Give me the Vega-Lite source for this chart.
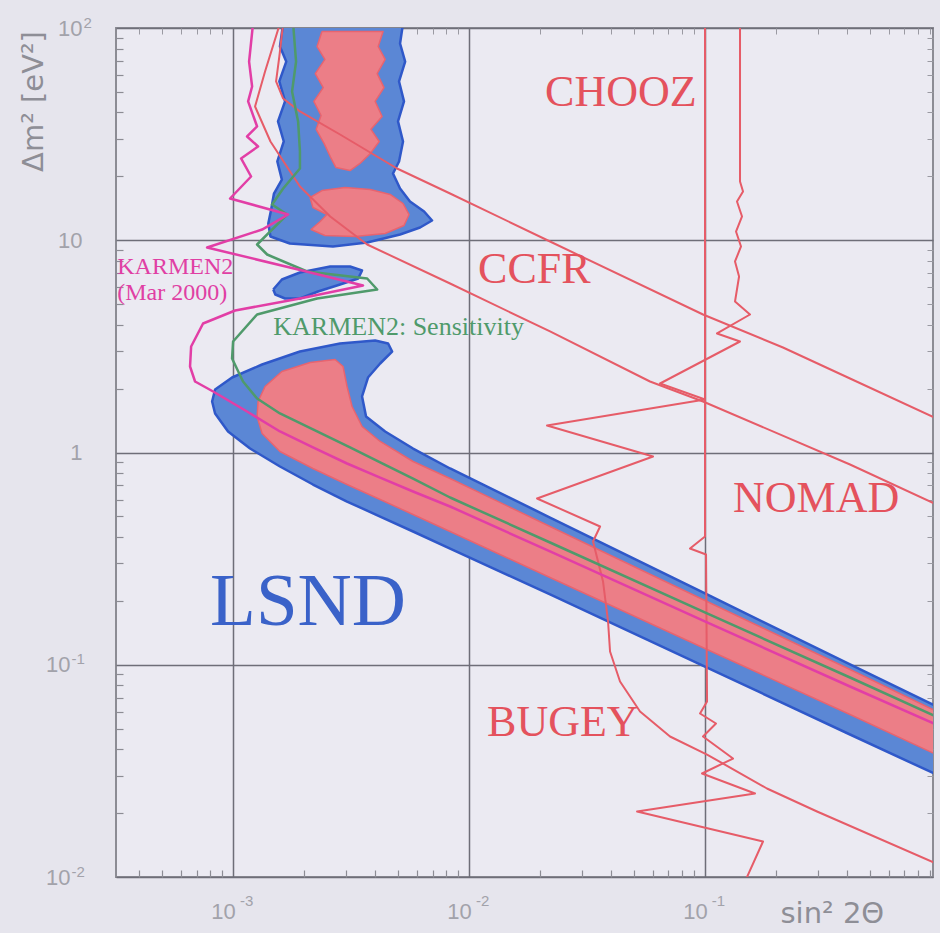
{
  "$schema": "https://vega.github.io/schema/vega-lite/v6.json",
  "width": 817,
  "height": 849,
  "autosize": {"type": "none"},
  "padding": {"left": 116, "top": 28, "right": 7, "bottom": 56},
  "background": "#e6e5ed",
  "config": {
    "view": {"fill": "#ebeaf2", "stroke": "#8c8c94", "strokeWidth": 2},
    "axis": {"labelFont": "Liberation Sans", "labelColor": "#a2a2aa", "domain": false, "ticks": false, "grid": false, "labelFlush": false, "labelOverlap": false}
  },
  "resolve": {"axis": {"x": "independent", "y": "independent"}},
  "datasets": {
    "pts": [
      {"s":"BU","o":1,"x":0.00163,"y":105},{"s":"BU","o":2,"x":0.00158,"y":81.8},{"s":"BU","o":3,"x":0.00168,"y":69.5},{"s":"BU","o":4,"x":0.00157,"y":56.0},{"s":"BU","o":5,"x":0.00166,"y":45.1},{"s":"BU","o":6,"x":0.00155,"y":36.3},{"s":"BU","o":7,"x":0.00164,"y":29.2},{"s":"BU","o":8,"x":0.00154,"y":23.5},{"s":"BU","o":9,"x":0.00161,"y":19.3},{"s":"BU","o":10,"x":0.00149,"y":16.6},{"s":"BU","o":11,"x":0.00145,"y":13.96},{"s":"BU","o":12,"x":0.00141,"y":12.0},{"s":"BU","o":13,"x":0.00144,"y":10.41},{"s":"BU","o":14,"x":0.00174,"y":9.65},{"s":"BU","o":15,"x":0.00265,"y":9.35},{"s":"BU","o":16,"x":0.0037,"y":9.76},{"s":"BU","o":17,"x":0.0051,"y":10.64},{"s":"BU","o":18,"x":0.0062,"y":11.48},{"s":"BU","o":19,"x":0.00697,"y":12.39},{"s":"BU","o":20,"x":0.00645,"y":13.66},{"s":"BU","o":21,"x":0.00562,"y":15.22},{"s":"BU","o":22,"x":0.0051,"y":17.53},{"s":"BU","o":23,"x":0.00476,"y":20.63},{"s":"BU","o":24,"x":0.00505,"y":23.5},{"s":"BU","o":25,"x":0.00525,"y":29.2},{"s":"BU","o":26,"x":0.005,"y":36.3},{"s":"BU","o":27,"x":0.0053,"y":45.1},{"s":"BU","o":28,"x":0.00505,"y":56.0},{"s":"BU","o":29,"x":0.00536,"y":69.5},{"s":"BU","o":30,"x":0.0051,"y":84.5},{"s":"BU","o":31,"x":0.00525,"y":105},{"s":"BU","o":32,"x":0.00163,"y":105},
      {"s":"BI","o":1,"x":0.00148,"y":5.861},{"s":"BI","o":2,"x":0.00161,"y":6.534},{"s":"BI","o":3,"x":0.00192,"y":7.05},{"s":"BI","o":4,"x":0.00258,"y":7.521},{"s":"BI","o":5,"x":0.00313,"y":7.521},{"s":"BI","o":6,"x":0.00352,"y":7.202},{"s":"BI","o":7,"x":0.00339,"y":6.605},{"s":"BI","o":8,"x":0.00284,"y":6.187},{"s":"BI","o":9,"x":0.00229,"y":5.734},{"s":"BI","o":10,"x":0.00192,"y":5.316},{"s":"BI","o":11,"x":0.00166,"y":5.316},{"s":"BI","o":12,"x":0.00151,"y":5.551},{"s":"BI","o":13,"x":0.00148,"y":5.861},
      {"s":"BL","o":1,"x":1.04,"y":0.0291},{"s":"BL","o":2,"x":0.4116,"y":0.04692},{"s":"BL","o":3,"x":0.102,"y":0.09705},{"s":"BL","o":4,"x":0.02204,"y":0.2143},{"s":"BL","o":5,"x":0.00831,"y":0.3529},{"s":"BL","o":6,"x":0.00579,"y":0.4244},{"s":"BL","o":7,"x":0.0042,"y":0.4993},{"s":"BL","o":8,"x":0.00304,"y":0.5875},{"s":"BL","o":9,"x":0.00218,"y":0.7066},{"s":"BL","o":10,"x":0.00158,"y":0.8592},{"s":"BL","o":11,"x":0.00118,"y":1.044},{"s":"BL","o":12,"x":0.000952,"y":1.256},{"s":"BL","o":13,"x":0.000839,"y":1.527},{"s":"BL","o":14,"x":0.000815,"y":1.739},{"s":"BL","o":15,"x":0.000839,"y":1.981},{"s":"BL","o":16,"x":0.00099,"y":2.256},{"s":"BL","o":17,"x":0.001327,"y":2.598},{"s":"BL","o":18,"x":0.00192,"y":2.991},{"s":"BL","o":19,"x":0.00284,"y":3.263},{"s":"BL","o":20,"x":0.004,"y":3.371},{"s":"BL","o":21,"x":0.00454,"y":3.263},{"s":"BL","o":22,"x":0.00472,"y":2.991},{"s":"BL","o":23,"x":0.0042,"y":2.626},{"s":"BL","o":24,"x":0.00373,"y":2.256},{"s":"BL","o":25,"x":0.00352,"y":1.836},{"s":"BL","o":26,"x":0.00366,"y":1.478},{"s":"BL","o":27,"x":0.00441,"y":1.256},{"s":"BL","o":28,"x":0.00579,"y":1.044},{"s":"BL","o":29,"x":0.00831,"y":0.8407},{"s":"BL","o":30,"x":0.02204,"y":0.494},{"s":"BL","o":31,"x":0.102,"y":0.2143},{"s":"BL","o":32,"x":0.4116,"y":0.1003},{"s":"BL","o":33,"x":1.04,"y":0.06087},{"s":"BL","o":34,"x":1.04,"y":0.0291},
      {"s":"RU","o":1,"x":0.00238,"y":96.3},{"s":"RU","o":2,"x":0.00227,"y":81.8},{"s":"RU","o":3,"x":0.00245,"y":71.1},{"s":"RU","o":4,"x":0.00223,"y":61.0},{"s":"RU","o":5,"x":0.00241,"y":52.4},{"s":"RU","o":6,"x":0.0022,"y":45.1},{"s":"RU","o":7,"x":0.00236,"y":38.7},{"s":"RU","o":8,"x":0.00225,"y":33.3},{"s":"RU","o":9,"x":0.00243,"y":28.6},{"s":"RU","o":10,"x":0.00258,"y":24.8},{"s":"RU","o":11,"x":0.00273,"y":22.0},{"s":"RU","o":12,"x":0.00313,"y":21.3},{"s":"RU","o":13,"x":0.00345,"y":23.0},{"s":"RU","o":14,"x":0.00381,"y":25.6},{"s":"RU","o":15,"x":0.00416,"y":29.2},{"s":"RU","o":16,"x":0.00384,"y":33.3},{"s":"RU","o":17,"x":0.00428,"y":38.3},{"s":"RU","o":18,"x":0.004,"y":45.1},{"s":"RU","o":19,"x":0.00436,"y":52.4},{"s":"RU","o":20,"x":0.00408,"y":61.0},{"s":"RU","o":21,"x":0.00441,"y":71.1},{"s":"RU","o":22,"x":0.00412,"y":81.8},{"s":"RU","o":23,"x":0.00432,"y":96.3},{"s":"RU","o":24,"x":0.00238,"y":96.3},
      {"s":"RL","o":1,"x":0.00212,"y":15.9},{"s":"RL","o":2,"x":0.00238,"y":17.15},{"s":"RL","o":3,"x":0.00298,"y":17.72},{"s":"RL","o":4,"x":0.00381,"y":17.34},{"s":"RL","o":5,"x":0.00463,"y":16.43},{"s":"RL","o":6,"x":0.00525,"y":14.9},{"s":"RL","o":7,"x":0.00557,"y":13.22},{"s":"RL","o":8,"x":0.0053,"y":11.73},{"s":"RL","o":9,"x":0.00441,"y":10.76},{"s":"RL","o":10,"x":0.00329,"y":10.41},{"s":"RL","o":11,"x":0.00245,"y":10.53},{"s":"RL","o":12,"x":0.00214,"y":11.23},{"s":"RL","o":13,"x":0.00234,"y":12.26},{"s":"RL","o":14,"x":0.0025,"y":13.22},{"s":"RL","o":15,"x":0.00218,"y":14.27},{"s":"RL","o":16,"x":0.00212,"y":15.9},
      {"s":"RB","o":1,"x":1.04,"y":0.03615},{"s":"RB","o":2,"x":0.4116,"y":0.05829},{"s":"RB","o":3,"x":0.102,"y":0.118},{"s":"RB","o":4,"x":0.02204,"y":0.2577},{"s":"RB","o":5,"x":0.00831,"y":0.4244},{"s":"RB","o":6,"x":0.00579,"y":0.5105},{"s":"RB","o":7,"x":0.0042,"y":0.6006},{"s":"RB","o":8,"x":0.00304,"y":0.7066},{"s":"RB","o":9,"x":0.00218,"y":0.8407},{"s":"RB","o":10,"x":0.00158,"y":1.011},{"s":"RB","o":11,"x":0.001327,"y":1.229},{"s":"RB","o":12,"x":0.001264,"y":1.478},{"s":"RB","o":13,"x":0.001276,"y":1.739},{"s":"RB","o":14,"x":0.001366,"y":2.046},{"s":"RB","o":15,"x":0.00161,"y":2.407},{"s":"RB","o":16,"x":0.00212,"y":2.655},{"s":"RB","o":17,"x":0.002705,"y":2.743},{"s":"RB","o":18,"x":0.002925,"y":2.542},{"s":"RB","o":19,"x":0.00304,"y":2.046},{"s":"RB","o":20,"x":0.003193,"y":1.647},{"s":"RB","o":21,"x":0.00352,"y":1.326},{"s":"RB","o":22,"x":0.0042,"y":1.127},{"s":"RB","o":23,"x":0.00579,"y":0.907},{"s":"RB","o":24,"x":0.00831,"y":0.7542},{"s":"RB","o":25,"x":0.02204,"y":0.4481},{"s":"RB","o":26,"x":0.102,"y":0.1986},{"s":"RB","o":27,"x":0.4116,"y":0.09497},{"s":"RB","o":28,"x":1.04,"y":0.05766},{"s":"RB","o":29,"x":1.04,"y":0.03615},
      {"s":"C1","o":1,"x":1.04,"y":1.384},{"s":"C1","o":2,"x":0.4116,"y":2.232},{"s":"C1","o":3,"x":0.214,"y":3.124},{"s":"C1","o":4,"x":0.09806,"y":4.469},{"s":"C1","o":5,"x":0.02204,"y":9.865},{"s":"C1","o":6,"x":0.00831,"y":16.61},{"s":"C1","o":7,"x":0.004953,"y":21.78},{"s":"C1","o":8,"x":0.00284,"y":31.5},{"s":"C1","o":9,"x":0.00192,"y":40.43},{"s":"C1","o":10,"x":0.00163,"y":46.53},{"s":"C1","o":11,"x":0.001521,"y":56.0},{"s":"C1","o":12,"x":0.00157,"y":73.4},{"s":"C1","o":13,"x":0.00163,"y":105},
      {"s":"C2","o":1,"x":1.04,"y":0.5446},{"s":"C2","o":2,"x":0.4116,"y":0.8779},{"s":"C2","o":3,"x":0.09806,"y":1.739},{"s":"C2","o":4,"x":0.05846,"y":2.16},{"s":"C2","o":5,"x":0.02204,"y":3.717},{"s":"C2","o":6,"x":0.00831,"y":6.254},{"s":"C2","o":7,"x":0.0037,"y":9.55},{"s":"C2","o":8,"x":0.00258,"y":12.94},{"s":"C2","o":9,"x":0.00192,"y":17.92},{"s":"C2","o":10,"x":0.00144,"y":29.2},{"s":"C2","o":11,"x":0.001239,"y":42.67},{"s":"C2","o":12,"x":0.001366,"y":62.37},{"s":"C2","o":13,"x":0.00158,"y":105},
      {"s":"CH","o":1,"x":0.1,"y":105},{"s":"CH","o":2,"x":0.1,"y":0.402},{"s":"CH","o":3,"x":0.08638,"y":0.3529},{"s":"CH","o":4,"x":0.101,"y":0.3307},{"s":"CH","o":5,"x":0.102,"y":0.06713},{"s":"CH","o":6,"x":0.09524,"y":0.05892},{"s":"CH","o":7,"x":0.1113,"y":0.05287},{"s":"CH","o":8,"x":0.09806,"y":0.04591},{"s":"CH","o":9,"x":0.1314,"y":0.03615},{"s":"CH","o":10,"x":0.09712,"y":0.03073},{"s":"CH","o":11,"x":0.1629,"y":0.02474},{"s":"CH","o":12,"x":0.05152,"y":0.02035},{"s":"CH","o":13,"x":0.1761,"y":0.0147},{"s":"CH","o":14,"x":0.1477,"y":0.00952},
      {"s":"BG","o":1,"x":0.1407,"y":105},{"s":"BG","o":2,"x":0.1407,"y":18.91},{"s":"BG","o":3,"x":0.1449,"y":16.97},{"s":"BG","o":4,"x":0.1366,"y":15.22},{"s":"BG","o":5,"x":0.1435,"y":12.94},{"s":"BG","o":6,"x":0.1353,"y":10.99},{"s":"BG","o":7,"x":0.1421,"y":9.35},{"s":"BG","o":8,"x":0.134,"y":7.943},{"s":"BG","o":9,"x":0.1394,"y":6.749},{"s":"BG","o":10,"x":0.134,"y":5.145},{"s":"BG","o":11,"x":0.1551,"y":4.469},{"s":"BG","o":12,"x":0.1124,"y":3.637},{"s":"BG","o":13,"x":0.1407,"y":3.334},{"s":"BG","o":14,"x":0.06447,"y":2.114},{"s":"BG","o":15,"x":0.1,"y":1.777},{"s":"BG","o":16,"x":0.0214,"y":1.34},{"s":"BG","o":17,"x":0.06022,"y":0.9576},{"s":"BG","o":18,"x":0.01941,"y":0.6071},{"s":"BG","o":19,"x":0.03591,"y":0.4481},{"s":"BG","o":20,"x":0.03353,"y":0.3808},{"s":"BG","o":21,"x":0.03697,"y":0.2467},{"s":"BG","o":22,"x":0.03882,"y":0.1599},{"s":"BG","o":23,"x":0.03958,"y":0.1154},{"s":"BG","o":24,"x":0.04363,"y":0.08341},{"s":"BG","o":25,"x":0.05304,"y":0.06022},{"s":"BG","o":26,"x":0.07107,"y":0.04591},{"s":"BG","o":27,"x":0.102,"y":0.03776},{"s":"BG","o":28,"x":0.183,"y":0.02612},{"s":"BG","o":29,"x":0.2983,"y":0.02035},{"s":"BG","o":30,"x":1.04,"y":0.01109},
      {"s":"G","o":1,"x":0.001796,"y":105},{"s":"G","o":2,"x":0.001849,"y":69.5},{"s":"G","o":3,"x":0.001778,"y":50.2},{"s":"G","o":4,"x":0.001886,"y":36.3},{"s":"G","o":5,"x":0.00192,"y":26.19},{"s":"G","o":6,"x":0.00192,"y":21.78},{"s":"G","o":7,"x":0.00163,"y":17.53},{"s":"G","o":8,"x":0.001463,"y":14.74},{"s":"G","o":9,"x":0.001694,"y":13.22},{"s":"G","o":10,"x":0.001264,"y":9.55},{"s":"G","o":11,"x":0.001394,"y":8.567},{"s":"G","o":12,"x":0.002059,"y":7.124},{"s":"G","o":13,"x":0.0037,"y":6.605},{"s":"G","o":14,"x":0.00408,"y":5.861},{"s":"G","o":15,"x":0.00227,"y":5.316},{"s":"G","o":16,"x":0.001264,"y":4.469},{"s":"G","o":17,"x":0.001,"y":3.334},{"s":"G","o":18,"x":0.00099,"y":2.773},{"s":"G","o":19,"x":0.001102,"y":2.16},{"s":"G","o":20,"x":0.001264,"y":1.796},{"s":"G","o":21,"x":0.00158,"y":1.527},{"s":"G","o":22,"x":0.00218,"y":1.284},{"s":"G","o":23,"x":0.00313,"y":1.056},{"s":"G","o":24,"x":0.0042,"y":0.8973},{"s":"G","o":25,"x":0.00579,"y":0.7542},{"s":"G","o":26,"x":0.00831,"y":0.6137},{"s":"G","o":27,"x":0.02204,"y":0.3767},{"s":"G","o":28,"x":0.102,"y":0.1744},{"s":"G","o":29,"x":0.4116,"y":0.08709},{"s":"G","o":30,"x":1.04,"y":0.05461},
      {"s":"M","o":1,"x":0.001215,"y":105},{"s":"M","o":2,"x":0.001169,"y":69.5},{"s":"M","o":3,"x":0.001204,"y":53.0},{"s":"M","o":4,"x":0.001158,"y":45.1},{"s":"M","o":5,"x":0.001264,"y":34.36},{"s":"M","o":6,"x":0.001146,"y":30.83},{"s":"M","o":7,"x":0.001276,"y":27.66},{"s":"M","o":8,"x":0.001081,"y":24.28},{"s":"M","o":9,"x":0.001192,"y":19.97},{"s":"M","o":10,"x":0.000971,"y":15.73},{"s":"M","o":11,"x":0.001711,"y":13.22},{"s":"M","o":12,"x":0.001327,"y":11.23},{"s":"M","o":13,"x":0.000776,"y":9.244},{"s":"M","o":14,"x":0.001886,"y":7.28},{"s":"M","o":15,"x":0.003554,"y":6.122},{"s":"M","o":16,"x":0.00192,"y":5.316},{"s":"M","o":17,"x":0.00102,"y":4.667},{"s":"M","o":18,"x":0.000746,"y":4.053},{"s":"M","o":19,"x":0.000664,"y":3.158},{"s":"M","o":20,"x":0.000657,"y":2.542},{"s":"M","o":21,"x":0.00069,"y":2.16},{"s":"M","o":22,"x":0.000823,"y":1.938},{"s":"M","o":23,"x":0.001146,"y":1.56},{"s":"M","o":24,"x":0.00158,"y":1.256},{"s":"M","o":25,"x":0.00218,"y":1.056},{"s":"M","o":26,"x":0.00304,"y":0.8875},{"s":"M","o":27,"x":0.0042,"y":0.7622},{"s":"M","o":28,"x":0.00579,"y":0.6551},{"s":"M","o":29,"x":0.00831,"y":0.5567},{"s":"M","o":30,"x":0.02204,"y":0.3417},{"s":"M","o":31,"x":0.102,"y":0.1582},{"s":"M","o":32,"x":0.4116,"y":0.07898},{"s":"M","o":33,"x":1.04,"y":0.05008}
    ]
  },
  "layer": [
    {
      "data": {"name": "pts"},
      "transform": [{"filter": "datum.s == 'BU' || datum.s == 'BI' || datum.s == 'BL'"}],
      "mark": {"type": "line", "fill": "#5b87d5", "stroke": "#2f58c9", "strokeWidth": 2.5, "strokeJoin": "round", "clip": true},
      "encoding": {
        "x": {"field": "x", "type": "quantitative", "scale": {"type": "log", "domain": [0.000319, 0.925]},
          "axis": {"orient": "bottom", "values": [0.001, 0.01, 0.1],
            "labelExpr": "'10'",
            "grid": true, "gridColor": "#6e6e78", "gridWidth": 1.5, "gridOpacity": 1,
            "labelPadding": 24, "labelOffset": -10, "labelAlign": "center", "labelFontSize": 22,
            "title": "sin² 2Θ", "titleX": 664, "titleY": 45, "titleAlign": "left", "titleBaseline": "alphabetic", "titleAnchor": null,
            "titleFont": "DejaVu Sans", "titleFontSize": 29, "titleFontWeight": "normal", "titleColor": "#8e8e96"}},
        "y": {"field": "y", "type": "quantitative", "scale": {"type": "log", "domain": [0.01, 100]},
          "axis": {"orient": "left", "values": [0.01, 0.1, 1, 10, 100],
            "labelExpr": "datum.value < 0.5 ? '' : datum.value < 5 ? '1' : '10'",
            "grid": true, "gridColor": "#6e6e78", "gridWidth": 1.5, "gridOpacity": 1,
            "labelPadding": 34, "labelAlign": "right", "labelFontSize": 22,
            "title": "Δm² [eV²]", "titleAngle": -90, "titleX": -74, "titleY": 73, "titleAlign": "center", "titleBaseline": "alphabetic", "titleAnchor": null,
            "titleFont": "DejaVu Sans", "titleFontSize": 29, "titleFontWeight": "normal", "titleColor": "#8e8e96"}},
        "order": {"field": "o", "type": "quantitative"},
        "detail": {"field": "s", "type": "nominal"}
      }
    },
    {
      "data": {"name": "pts"},
      "transform": [{"filter": "datum.s == 'BU'"}],
      "mark": {"type": "line", "stroke": "#8c8c94", "strokeWidth": 0, "clip": true},
      "encoding": {
        "x": {"field": "x", "type": "quantitative", "scale": {"type": "log", "domain": [0.000319, 0.925]},
          "axis": {"orient": "top", "offset": -849, "values": [0.0004,0.0005,0.0006,0.0007,0.0008,0.0009,0.002,0.003,0.004,0.005,0.006,0.007,0.008,0.009,0.02,0.03,0.04,0.05,0.06,0.07,0.08,0.09,0.2,0.3,0.4,0.5,0.6,0.7,0.8,0.9],
            "labels": false, "ticks": true, "tickSize": 7, "tickColor": "#8c8c94", "tickWidth": 1.2, "title": null}},
        "y": {"field": "y", "type": "quantitative", "scale": {"type": "log", "domain": [0.01, 100]},
          "axis": {"orient": "right", "offset": -817, "values": [0.02,0.03,0.04,0.05,0.06,0.07,0.08,0.09,0.2,0.3,0.4,0.5,0.6,0.7,0.8,0.9,2,3,4,5,6,7,8,9,20,30,40,50,60,70,80,90],
            "labels": false, "ticks": true, "tickSize": 7, "tickColor": "#8c8c94", "tickWidth": 1.2, "title": null}},
        "order": {"field": "o", "type": "quantitative"}
      }
    },
    {
      "data": {"name": "pts"},
      "transform": [{"filter": "datum.s == 'RU' || datum.s == 'RL' || datum.s == 'RB'"}],
      "mark": {"type": "line", "fill": "#ec7e87", "stroke": "#e8646f", "strokeWidth": 1.5, "strokeJoin": "round", "clip": true},
      "encoding": {
        "x": {"field": "x", "type": "quantitative", "scale": {"type": "log", "domain": [0.000319, 0.925]},
          "axis": {"orient": "bottom", "values": [0.001, 0.01, 0.1],
            "labelExpr": "datum.value < 0.005 ? '-3' : datum.value < 0.05 ? '-2' : '-1'",
            "labelPadding": 16, "labelOffset": 13, "labelAlign": "center", "labelFontSize": 15, "title": null}},
        "y": {"field": "y", "type": "quantitative", "scale": {"type": "log", "domain": [0.01, 100]}, "axis": null},
        "order": {"field": "o", "type": "quantitative"},
        "detail": {"field": "s", "type": "nominal"}
      }
    },
    {
      "data": {"name": "pts"},
      "transform": [{"filter": "datum.s == 'C1' || datum.s == 'C2' || datum.s == 'CH' || datum.s == 'BG'"}],
      "mark": {"type": "line", "stroke": "#e65c68", "strokeWidth": 2, "strokeJoin": "round", "clip": true},
      "encoding": {
        "x": {"field": "x", "type": "quantitative", "scale": {"type": "log", "domain": [0.000319, 0.925]}, "axis": null},
        "y": {"field": "y", "type": "quantitative", "scale": {"type": "log", "domain": [0.01, 100]},
          "axis": {"orient": "left", "values": [100], "labelExpr": "'2'",
            "labelPadding": 33, "labelAlign": "left", "labelOffset": -6, "labelFontSize": 15, "title": null}},
        "order": {"field": "o", "type": "quantitative"},
        "detail": {"field": "s", "type": "nominal"}
      }
    },
    {
      "data": {"name": "pts"},
      "transform": [{"filter": "datum.s == 'G'"}],
      "mark": {"type": "line", "stroke": "#4f9a6b", "strokeWidth": 2.5, "strokeJoin": "round", "clip": true},
      "encoding": {
        "x": {"field": "x", "type": "quantitative", "scale": {"type": "log", "domain": [0.000319, 0.925]}, "axis": null},
        "y": {"field": "y", "type": "quantitative", "scale": {"type": "log", "domain": [0.01, 100]},
          "axis": {"orient": "left", "values": [0.01, 0.1], "labelExpr": "datum.value < 0.05 ? '-2' : '-1'",
            "labelPadding": 45, "labelAlign": "left", "labelOffset": -6, "labelFontSize": 15, "title": null}},
        "order": {"field": "o", "type": "quantitative"}
      }
    },
    {
      "data": {"name": "pts"},
      "transform": [{"filter": "datum.s == 'M'"}],
      "mark": {"type": "line", "stroke": "#e23ea6", "strokeWidth": 2.5, "strokeJoin": "round", "clip": true},
      "encoding": {
        "x": {"field": "x", "type": "quantitative", "scale": {"type": "log", "domain": [0.000319, 0.925]}, "axis": null},
        "y": {"field": "y", "type": "quantitative", "scale": {"type": "log", "domain": [0.01, 100]},
          "axis": {"orient": "left", "values": [0.01, 0.1], "labelExpr": "'10'",
            "labelPadding": 46, "labelAlign": "right", "labelFontSize": 22, "title": null}},
        "order": {"field": "o", "type": "quantitative"}
      }
    },
    {
      "data": {"values": [
        {"t": "CHOOZ", "x": 0.02099, "y": 49.14},
        {"t": "CCFR", "x": 0.01092, "y": 7.28},
        {"t": "NOMAD", "x": 0.1314, "y": 0.6071},
        {"t": "BUGEY", "x": 0.01192, "y": 0.05287}
      ]},
      "mark": {"type": "text", "font": "Liberation Serif", "fontSize": 44, "color": "#e4525d", "align": "left", "baseline": "middle"},
      "encoding": {
        "x": {"field": "x", "type": "quantitative", "scale": {"type": "log", "domain": [0.000319, 0.925]}, "axis": null},
        "y": {"field": "y", "type": "quantitative", "scale": {"type": "log", "domain": [0.01, 100]}, "axis": null},
        "text": {"field": "t"}
      }
    },
    {
      "data": {"values": [{"t": "LSND", "x": 0.000799, "y": 0.1965}]},
      "mark": {"type": "text", "font": "Liberation Serif", "fontSize": 75, "color": "#3a62c9", "align": "left", "baseline": "middle"},
      "encoding": {
        "x": {"field": "x", "type": "quantitative", "scale": {"type": "log", "domain": [0.000319, 0.925]},
          "axis": {"orient": "bottom", "offset": -849, "values": [0.0004,0.0005,0.0006,0.0007,0.0008,0.0009,0.002,0.003,0.004,0.005,0.006,0.007,0.008,0.009,0.02,0.03,0.04,0.05,0.06,0.07,0.08,0.09,0.2,0.3,0.4,0.5,0.6,0.7,0.8,0.9],
            "labels": false, "ticks": true, "tickSize": 6, "tickColor": "#9a9aa2", "tickWidth": 1, "title": null}},
        "y": {"field": "y", "type": "quantitative", "scale": {"type": "log", "domain": [0.01, 100]},
          "axis": {"orient": "left", "offset": -817, "values": [0.02,0.03,0.04,0.05,0.06,0.07,0.08,0.09,0.2,0.3,0.4,0.5,0.6,0.7,0.8,0.9,2,3,4,5,6,7,8,9,20,30,40,50,60,70,80,90],
            "labels": false, "ticks": true, "tickSize": 6, "tickColor": "#9a9aa2", "tickWidth": 1, "title": null}},
        "text": {"field": "t"}
      }
    },
    {
      "data": {"values": [
        {"t": "KARMEN2", "x": 0.000323, "y": 7.521},
        {"t": "(Mar 2000)", "x": 0.000323, "y": 5.612}
      ]},
      "mark": {"type": "text", "font": "Liberation Serif", "fontSize": 24, "color": "#e03fa4", "align": "left", "baseline": "middle"},
      "encoding": {
        "x": {"field": "x", "type": "quantitative", "scale": {"type": "log", "domain": [0.000319, 0.925]}, "axis": null},
        "y": {"field": "y", "type": "quantitative", "scale": {"type": "log", "domain": [0.01, 100]}, "axis": null},
        "text": {"field": "t"}
      }
    },
    {
      "data": {"values": [{"t": "KARMEN2: Sensitivity", "x": 0.00148, "y": 3.882}]},
      "mark": {"type": "text", "font": "Liberation Serif", "fontSize": 26, "color": "#4f9a6b", "align": "left", "baseline": "middle"},
      "encoding": {
        "x": {"field": "x", "type": "quantitative", "scale": {"type": "log", "domain": [0.000319, 0.925]}, "axis": null},
        "y": {"field": "y", "type": "quantitative", "scale": {"type": "log", "domain": [0.01, 100]}, "axis": null},
        "text": {"field": "t"}
      }
    }
  ]
}
